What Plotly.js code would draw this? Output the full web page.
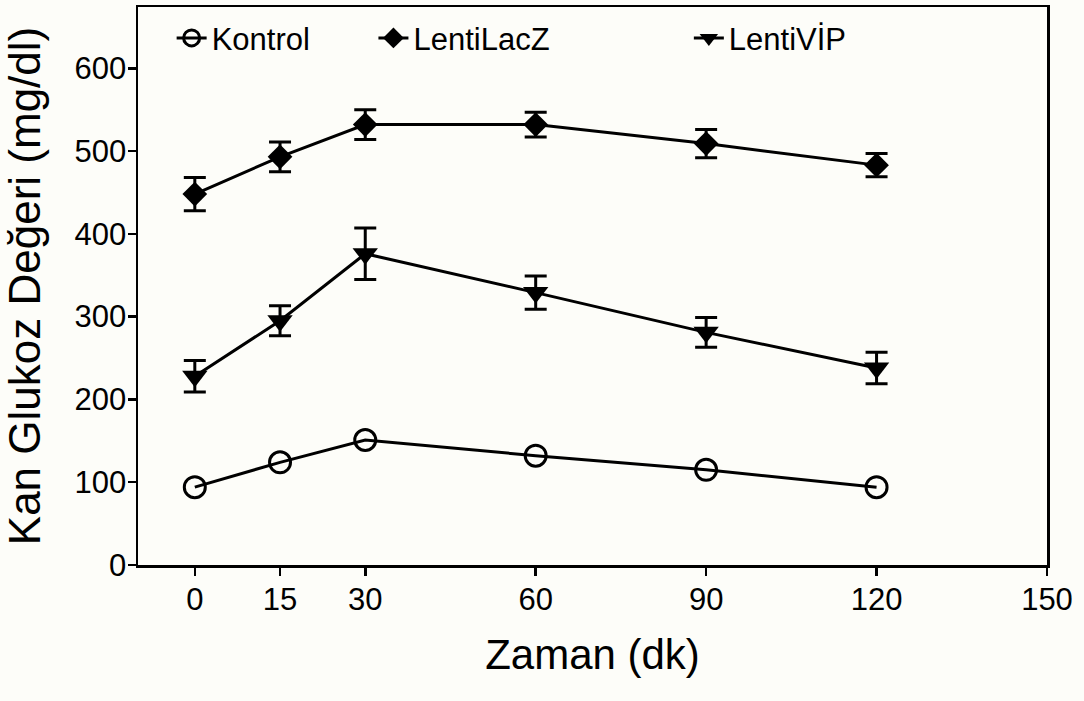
<!DOCTYPE html>
<html>
<head>
<meta charset="utf-8">
<script src="https://cdn.plot.ly/plotly-3.0.1.min.js"></script>
<style>html,body{margin:0;padding:0;background:#fdfdf9;}#chart{width:1084px;height:701px;}</style>
</head>
<body>
<div id="chart"></div>
<script>
// Time points (minutes)
const timePoints = [0, 15, 30, 60, 90, 120];
// Series values (mg/dl)
const kontrolValues = [94, 124, 151, 132, 115, 94];
const lentiLacZValues = [448, 493, 532, 532, 509, 483];
const lentiLacZErrors = [20, 18, 18, 15, 17, 14];
const lentiVIPValues = [228, 295, 376, 329, 281, 238];
const lentiVIPErrors = [19, 18, 31, 20, 18, 19];
// Axis ticks
const xTickValues = [0, 15, 30, 60, 90, 120, 150];
const yTickValues = [0, 100, 200, 300, 400, 500, 600];
const seriesNames = ['Kontrol', 'LentiLacZ', 'LentiVİP'];

const FONT = 'Liberation Sans, Arial, Helvetica, sans-serif';
const lineStyle = {color: '#000', width: 3};
const errStyle = {type: 'data', visible: true, color: '#000', thickness: 3, width: 11};

const traces = [
  {
    x: timePoints, y: kontrolValues, name: seriesNames[0], mode: 'lines+markers',
    line: lineStyle,
    marker: {symbol: 'circle-open', size: 21, color: '#000', line: {width: 3, color: '#000'}},
    legend: 'legend'
  },
  {
    x: timePoints, y: lentiLacZValues, name: seriesNames[1], mode: 'lines+markers',
    line: lineStyle,
    error_y: Object.assign({array: lentiLacZErrors}, errStyle),
    marker: {symbol: 'diamond', size: 19, color: '#000'},
    legend: 'legend2'
  },
  {
    x: timePoints, y: lentiVIPValues, name: seriesNames[2], mode: 'lines+markers',
    line: lineStyle,
    error_y: Object.assign({array: lentiVIPErrors}, errStyle),
    marker: {symbol: 'triangle-down', size: 22, color: '#000'},
    legend: 'legend3'
  }
];

const legendBase = {
  yanchor: 'middle', y: 0.944, xanchor: 'left',
  bgcolor: 'rgba(0,0,0,0)', borderwidth: 0,
  font: {family: FONT, size: 31, color: '#000'},
  itemwidth: 30
};

const layout = {
  width: 1084, height: 701,
  margin: {l: 138, r: 37, t: 7, b: 136},
  paper_bgcolor: '#fdfdf9', plot_bgcolor: '#fdfdf9',
  font: {family: FONT, color: '#000'},
  showlegend: true,
  legend: Object.assign({}, legendBase, {x: 0.037}),
  legend2: Object.assign({}, legendBase, {x: 0.259}),
  legend3: Object.assign({}, legendBase, {x: 0.606}),
  xaxis: {
    range: [-10, 150], tickvals: xTickValues, ticktext: xTickValues.map(String),
    showgrid: false, zeroline: false,
    showline: true, linecolor: '#000', linewidth: 2.5, mirror: true,
    ticks: 'outside', ticklen: 8, tickwidth: 2.5, tickcolor: '#000',
    ticklabelstandoff: -3,
    tickfont: {family: FONT, size: 31, color: '#000'},
    title: {text: 'Zaman (dk)', font: {family: FONT, size: 42, color: '#000'}, standoff: 24}
  },
  yaxis: {
    range: [0, 674], tickvals: yTickValues,
    showgrid: false, zeroline: false,
    showline: true, linecolor: '#000', linewidth: 2.5, mirror: true,
    ticks: 'outside', ticklen: 8, tickwidth: 2.5, tickcolor: '#000',
    ticklabelstandoff: -5,
    tickfont: {family: FONT, size: 31, color: '#000'},
    title: {text: 'Kan Glukoz Değeri (mg/dl)', font: {family: FONT, size: 44, color: '#000'}, standoff: 24}
  }
};

Plotly.newPlot('chart', traces, layout, {displayModeBar: false, staticPlot: true});
</script>
</body>
</html>
